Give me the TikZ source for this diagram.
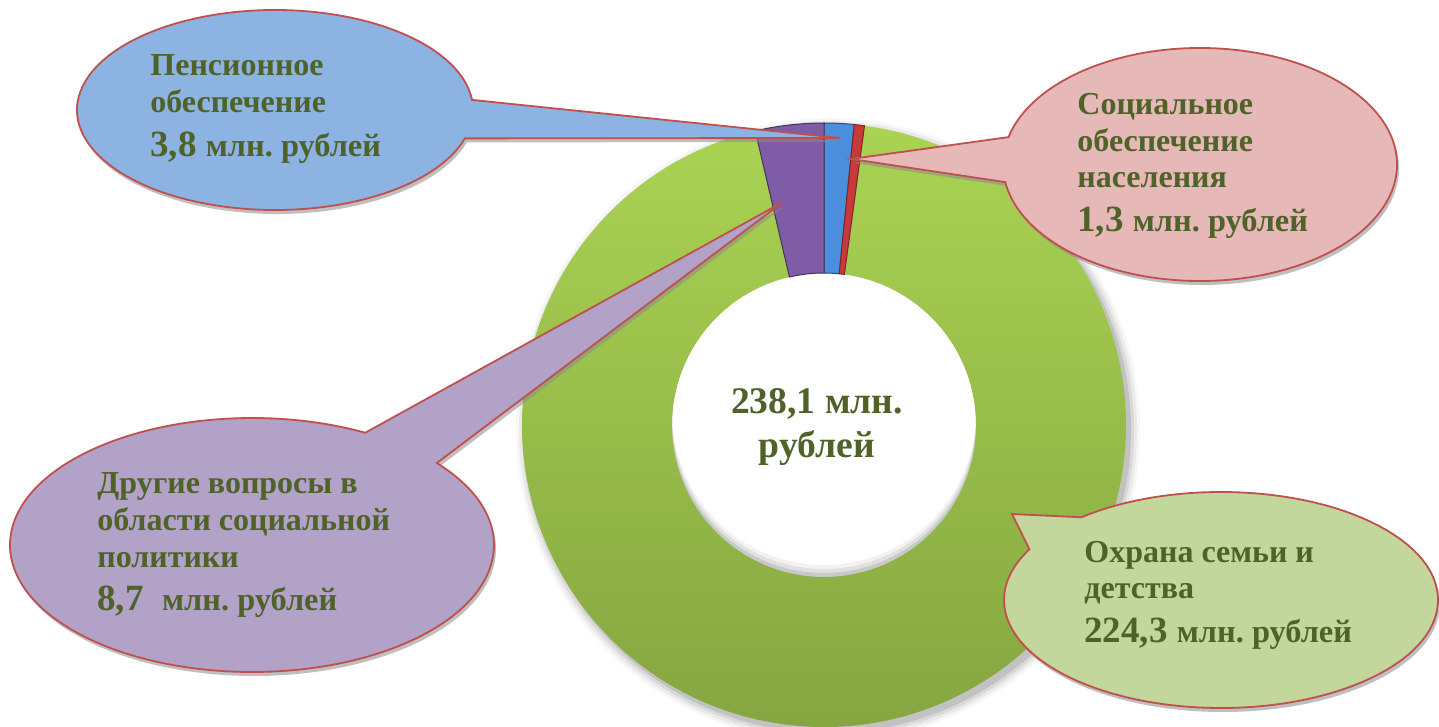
\documentclass[tikz,border=0pt]{standalone}
\usepackage{fontspec}
\setmainfont{Liberation Serif}
\usetikzlibrary{calc}
\definecolor{txtg}{HTML}{4F6228}
\definecolor{edge}{HTML}{C0504D}
\definecolor{cblue}{HTML}{8DB3E2}
\definecolor{cpink}{HTML}{E6B9B8}
\definecolor{cgreen}{HTML}{C3D69B}
\definecolor{cpurple}{HTML}{B2A2C7}
\definecolor{ringtop}{HTML}{AAD353}
\definecolor{ringbot}{HTML}{84A440}
\definecolor{sblue}{HTML}{4A8EDC}
\definecolor{sred}{HTML}{C8393B}
\definecolor{spurple}{HTML}{7E5CA6}
\newcommand\ringpart[3]{\path[#3] (#1:302) arc[start angle=#1,end angle=#2,radius=302] -- (#2:152) arc[start angle=#2,end angle=#1,radius=152] -- cycle;}
\newcommand\callout[8]{\path[#1] ($(#2)+#8$) ++(#5:#3 and #4) arc[start angle=#5,end angle=#6,x radius=#3,y radius=#4] -- ($(#7)+#8$) -- cycle;}
\newcommand\unitpart[1]{{\fontsize{16.2}{20}\selectfont #1}}
\frenchspacing
\begin{document}
\begin{tikzpicture}[x=0.5pt,y=-0.5pt,
  lbl/.style={anchor=base west,inner sep=0pt,text=txtg,font=\fontsize{16}{18}\selectfont\bfseries},
  lblbig/.style={lbl,font=\fontsize{18.5}{22}\selectfont\bfseries},
  ctr/.style={anchor=base,inner sep=0pt,text=txtg,font=\fontsize{18.8}{22}\selectfont\bfseries},
  bubble/.style={fill=#1,draw=edge,line width=0.9pt,line join=miter},
  bshadow/.style={fill=black!45,opacity=0.55}]
\useasboundingbox (0,0) rectangle (1439,727);
\fill[white] (0,0) rectangle (1439,727);

\coordinate (C) at (824,425);
% ring shadow
\foreach \k/\o in {10/0.03,7/0.05,4/0.07,1/0.1}{\fill[black,opacity=\o] ($(C)+(4,5)$) circle[radius=302+\k];}
\fill[white] (C) circle[radius=152];
\begin{scope}
  \clip (C) circle[radius=152];
  \foreach \d/\o in {12/0.05,8/0.07,4/0.1}{\fill[black,opacity=\o,even odd rule] (C) circle[radius=160] ($(C)+(0,-\d)$) circle[radius=152];}
\end{scope}

\begin{scope}[shift={(C)}]
  \ringpart{-82.289}{256.846}{top color=ringtop,bottom color=ringbot}
  \ringpart{-90}{-84.2545}{fill=sblue,draw=sblue!55!black,line width=0.5pt}
  \ringpart{-84.2545}{-82.289}{fill=sred,draw=sred!65!black,line width=0.5pt}
  \ringpart{256.846}{270}{fill=spurple,draw=spurple!55!black,line width=0.5pt}
\end{scope}

% callouts
\coordinate (bc) at (275,110);   \coordinate (btip) at (840,138);
\coordinate (pc) at (1200,164.5); \coordinate (ptip) at (851,159);
\coordinate (uc) at (252,545);   \coordinate (utip) at (783,202);
\coordinate (gc) at (1221,600);  \coordinate (gtip) at (1012,514);

\callout{bshadow}{bc}{198}{100}{16.5}{354.2}{btip}{(2,4)}
\callout{bubble=cblue}{bc}{198}{100}{16.5}{354.2}{btip}{(0,0)}
\callout{bshadow}{pc}{197}{116.5}{193.6}{531.3}{ptip}{(2,4)}
\callout{bubble=cpink}{pc}{197}{116.5}{193.6}{531.3}{ptip}{(0,0)}
\callout{bshadow}{uc}{242}{127}{-40.2}{297.9}{utip}{(2,4)}
\callout{bubble=cpurple}{uc}{242}{127}{-40.2}{297.9}{utip}{(0,0)}
\callout{bshadow}{gc}{217}{108}{-130}{208}{gtip}{(2,4)}
\callout{bubble=cgreen}{gc}{217}{108}{-130}{208}{gtip}{(0,0)}

% texts
\node[lbl] (b1) at (150,76) {Пенсионное};
\node[lbl] (b2) at (150,113) {обеспечение};
\node[lblbig] (b3) at (150,157) {3,8 \unitpart{млн. рублей}};

\node[lbl] (p1) at (1077,115) {Социальное};
\node[lbl] (p2) at (1077,152) {обеспечение};
\node[lbl] (p3) at (1077,188) {населения};
\node[lblbig] (p4) at (1077,232) {1,3 \unitpart{млн. рублей}};

\node[lbl] (u1) at (97,493) {Другие вопросы в};
\node[lbl] (u2) at (97,530) {области социальной};
\node[lbl] (u3) at (97,567) {политики};
\node[lblbig] (u4) at (97,610) {8,7\ \ \unitpart{млн. рублей}};

\node[lbl] (g1) at (1084,562) {Охрана семьи и};
\node[lbl] (g2) at (1084,598) {детства};
\node[lblbig] (g3) at (1084,642) {224,3 \unitpart{млн. рублей}};

\node[ctr] (t1) at (817,413) {238,1 млн.};
\node[ctr] (t2) at (817,457) {рублей};
\end{tikzpicture}
\end{document}
